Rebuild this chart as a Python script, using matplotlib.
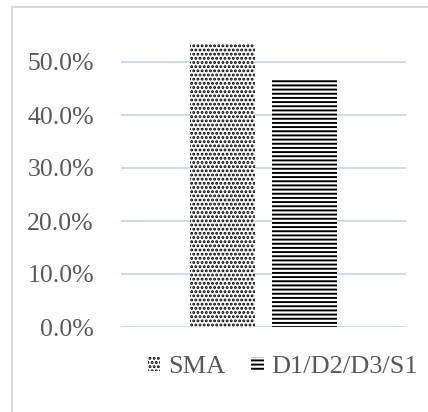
import matplotlib
matplotlib.use("Agg")
import matplotlib.pyplot as plt
from matplotlib.patches import Rectangle, Patch
from matplotlib.ticker import PercentFormatter

series = ["SMA", "D1/D2/D3/S1"]
values = [0.534, 0.466]
yticks = [0.0, 0.1, 0.2, 0.3, 0.4, 0.5]
hatches = ["....", "----"]

plt.rcParams['font.family'] = ['Liberation Serif', 'DejaVu Serif']
plt.rcParams['hatch.linewidth'] = 1.4

W, H = 428, 412
fig = plt.figure(figsize=(W/100, H/100), dpi=100)

# figure border (light gray), left and top visible
fig.patches.append(Rectangle((12/W, -0.1), 1.2, 1 - 7/H + 0.1, transform=fig.transFigure,
                             fill=False, edgecolor='#D9D9D9', linewidth=1.5))

ax = fig.add_axes([121/W, (H-327)/H, 285/W, 291.5/H])
width = 0.228
offsets = [-0.144, 0.144]
for i, (s, v) in enumerate(zip(series, values)):
    ax.bar(offsets[i], v, width=width, facecolor='white', edgecolor='black', linewidth=0,
           hatch=hatches[i], label=s, zorder=3)

ax.set_xlim(-0.5, 0.5)
ax.set_ylim(0, 0.55)
ax.set_yticks(yticks)
ax.yaxis.set_major_formatter(PercentFormatter(1.0, decimals=1))
ax.set_xticks([])
ax.tick_params(axis='y', length=0, pad=19.5, labelsize=18.5, labelcolor='#595959')
ax.grid(axis='y', color='#C5D3EE', linewidth=1.2, zorder=0)
for sp in ax.spines.values():
    sp.set_visible(False)

handles = [Patch(facecolor='white', edgecolor='black', linewidth=0, hatch=hatches[i],
                 label=series[i]) for i in range(2)]
leg = fig.legend(handles=handles, loc='center', bbox_to_anchor=(283/W, 1 - 367/H),
                 ncol=2, frameon=False, fontsize=19, handlelength=0.46, handleheight=0.45,
                 handletextpad=0.3, columnspacing=1.0, labelcolor='#595959')

fig.savefig('out.png', dpi=100)
